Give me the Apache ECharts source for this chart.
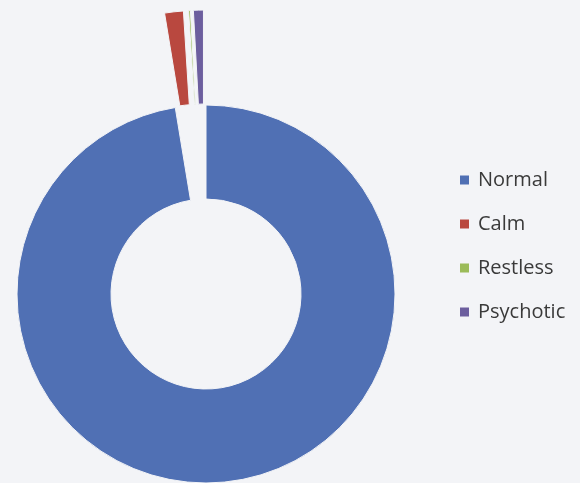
<!DOCTYPE html>
<html>
<head>
<meta charset="utf-8">
<script src="https://cdn.jsdelivr.net/npm/echarts@6/dist/echarts.min.js"></script>
<style>
  html, body { margin: 0; padding: 0; background: #f3f4f7; }
  #chart { width: 580px; height: 483px; }
</style>
</head>
<body>
<div id="chart"></div>
<script>
// Patient state shares (percent)
const categories = ['Normal', 'Calm', 'Restless', 'Psychotic'];
const values = [97.4, 1.6, 0.15, 0.85];
// Small slices pulled out from the ring
const exploded = [false, true, true, true];
const colors = ['#5070b4', '#b9483f', '#9bbb59', '#6c5e9e'];

const chart = echarts.init(document.getElementById('chart'), null, { renderer: 'canvas' });

const data = categories.map((name, i) => ({
  name: name,
  value: values[i],
  selected: exploded[i],
  itemStyle: { color: colors[i] }
}));

chart.setOption({
  backgroundColor: '#f3f4f7',
  animation: false,
  legend: {
    orient: 'vertical',
    left: 458,
    top: 170,
    padding: 0,
    icon: 'rect',
    itemWidth: 11,
    itemHeight: 11,
    itemGap: 24,
    selectedMode: false,
    textStyle: {
      fontFamily: 'Open Sans',
      fontSize: 20,
      lineHeight: 20,
      color: '#3a3a3a',
      padding: [0, 0, 0, 3]
    },
    data: categories
  },
  series: [{
    type: 'pie',
    center: [206, 294],
    radius: [95, 189],
    startAngle: 90,
    clockwise: true,
    selectedMode: 'multiple',
    selectedOffset: 95,
    silent: true,
    label: { show: false },
    labelLine: { show: false },
    itemStyle: { borderColor: '#f3f4f7', borderWidth: 1 },
    emphasis: { disabled: true },
    data: data
  }]
});
</script>
</body>
</html>
